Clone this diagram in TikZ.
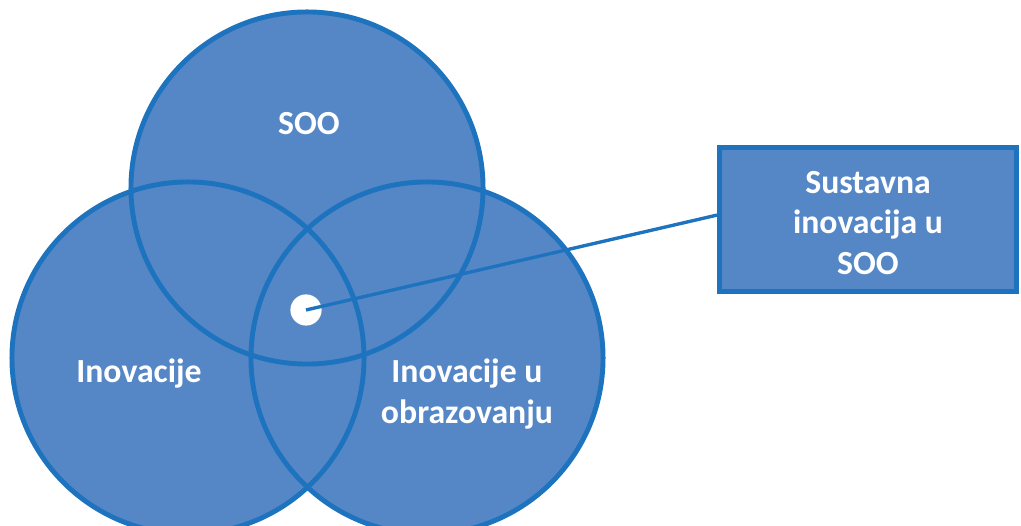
\documentclass[tikz,border=0pt]{standalone}
\usepackage{fontspec}
\setmainfont{Carlito}
\definecolor{vennfill}{RGB}{85,135,199}
\definecolor{vennedge}{RGB}{30,115,190}

\begin{document}
\begin{tikzpicture}[x=0.025cm, y=0.025cm,
    setfill/.style={fill=vennfill},
    setedge/.style={draw=vennedge, line width=3.5pt},
    setlabel/.style={text=white, font=\fontsize{24}{28.5}\selectfont\bfseries, align=center},
    infobox/.style={setlabel, fill=vennfill, draw=vennedge, line width=3.5pt,
        minimum width=7.425cm, minimum height=3.6cm, inner sep=0pt},
    link/.style={draw=vennedge, line width=2.4pt}]
    \useasboundingbox (0,0) rectangle (1021,526);

    % Fill the three sets
    \fill[setfill] (307,338) circle[radius=4.4cm];
    \fill[setfill] (188,168) circle[radius=4.4cm];
    \fill[setfill] (427,168) circle[radius=4.4cm];

    % Outline the three sets
    \draw[setedge] (307,338) circle[radius=4.4cm];
    \draw[setedge] (188,168) circle[radius=4.4cm];
    \draw[setedge] (427,168) circle[radius=4.4cm];

    % Set labels
    \node[setlabel] (soo) at (309,402) {SOO};
    \node[setlabel] (inov) at (139,152) {Inovacije};
    \node[setlabel] (inovobr) at (467,132) {Inovacije u\\obrazovanju};

    % Common part and its callout
    \node[circle, fill=white, minimum size=0.78cm, inner sep=0pt] (dot) at (306,216) {};
    \node[infobox] (box) at (868,306.5) {};
    \node[setlabel] (boxtext) at (868,303) {Sustavna\\inovacija u\\SOO};
    \draw[link] (dot.center) -- ([yshift=0.11cm]box.west);
\end{tikzpicture}
\end{document}
